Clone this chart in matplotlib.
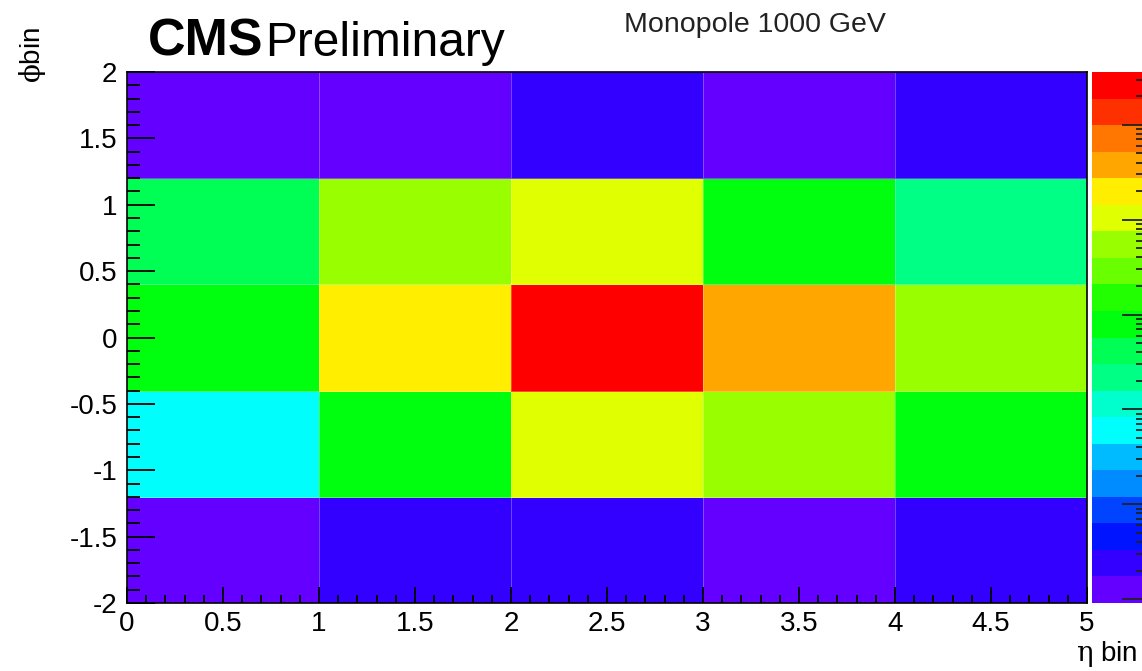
import colorsys

import numpy as np
import matplotlib
matplotlib.use("Agg")
import matplotlib.pyplot as plt
from matplotlib.colors import ListedColormap, LogNorm
from matplotlib.ticker import MultipleLocator, FuncFormatter, LogLocator, NullFormatter

# ── DATA ──────────────────────────────────────────────────────────────────
eta_edges = [0, 1, 2, 3, 4, 5]
phi_edges = [-2.0, -1.2, -0.4, 0.4, 1.2, 2.0]

# one row per phi bin, from phi = -2 (bottom) up to phi = 2 (top)
counts = [
    [1.3,   2.3,    2.5,      1.2,     2.2],
    [62,    800,    10400,    5400,    760],
    [850,   19800,  264000,   38000,   5300],
    [410,   5600,   11000,    900,     230],
    [1.2,   1.4,    2.4,      1.3,     2.1],
]

z_min, z_max = 0.91, 3.6e5
plot_title = "Monopole 1000 GeV"

# ── STYLE ─────────────────────────────────────────────────────────────────
plt.rcParams.update({
    "font.family": ["Liberation Sans", "DejaVu Sans"],
    "axes.unicode_minus": False,
    "mathtext.fontset": "custom",
    "mathtext.rm": "DejaVu Serif",
    "figure.facecolor": "white",
})

# ROOT-like rainbow palette: 50 HLS hues from violet to red, 20 contour levels
n_levels, n_colors = 20, 50
hues = [280 - (int((i + 0.99) * n_colors / n_levels) + 1) * 280 / n_colors
        for i in range(n_levels)]
cmap = ListedColormap([colorsys.hls_to_rgb(h / 360.0, 0.5, 1.0) for h in hues])
norm = LogNorm(vmin=z_min, vmax=z_max)

W, H = 1142, 671
fig = plt.figure(figsize=(W / 100, H / 100), dpi=100)
ax = fig.add_axes([127 / W, 1 - 603 / H, 960 / W, 531 / H])

mesh = ax.pcolormesh(eta_edges, phi_edges, np.array(counts), cmap=cmap, norm=norm,
                     edgecolors=(1, 1, 1, 0.28), linewidth=0.6)

ax.set_xlim(0, 5)
ax.set_ylim(-2, 2)
fmt = FuncFormatter(lambda v, p: f"{v:g}")
for axis in (ax.xaxis, ax.yaxis):
    axis.set_major_locator(MultipleLocator(0.5))
    axis.set_minor_locator(MultipleLocator(0.1))
    axis.set_major_formatter(fmt)

ax.tick_params(which="both", direction="in", top=False, right=False,
               width=1.3, color="black", labelsize=20)
ax.tick_params(axis="y", which="major", length=20, pad=7)
ax.tick_params(axis="y", which="minor", length=9.5)
ax.tick_params(axis="x", which="major", length=11.5, pad=6)
ax.tick_params(axis="x", which="minor", length=5.8)
for sp in ax.spines.values():
    sp.set_linewidth(1.2)

# ── PALETTE AXIS ──────────────────────────────────────────────────────────
cax = fig.add_axes([1092 / W, 1 - 603 / H, 58 / W, 531 / H])
cbar = fig.colorbar(mesh, cax=cax)
cbar.outline.set_visible(False)
cax.yaxis.set_ticks_position("right")
cax.yaxis.set_major_locator(LogLocator(base=10))
cax.yaxis.set_minor_locator(LogLocator(base=10, subs=np.arange(2, 10)))
cax.yaxis.set_minor_formatter(NullFormatter())
cax.tick_params(which="both", direction="in", labelright=False, width=1.3,
                color="#222222")
cax.tick_params(which="major", length=20)
cax.tick_params(which="minor", length=10)

# ── LABELS ────────────────────────────────────────────────────────────────
fig.text(148 / W, 1 - 56 / H, "CMS", fontsize=37.5, fontweight="bold", va="baseline")
fig.text(265 / W, 1 - 56 / H, "Preliminary", fontsize=34.5, va="baseline")
fig.text(755 / W, 1 - 32 / H, plot_title, fontsize=20.5, ha="center", va="baseline",
         color="#222222")
fig.text(32 / W, 1 - 27 / H, r"$\mathrm{\phi}$bin", fontsize=20, rotation=90,
         ha="center", va="top")
fig.text(1138 / W, 1 - 661 / H, r"$\mathrm{\eta}$ bin", fontsize=20, ha="right",
         va="baseline")

fig.savefig("out.png", dpi=100)
